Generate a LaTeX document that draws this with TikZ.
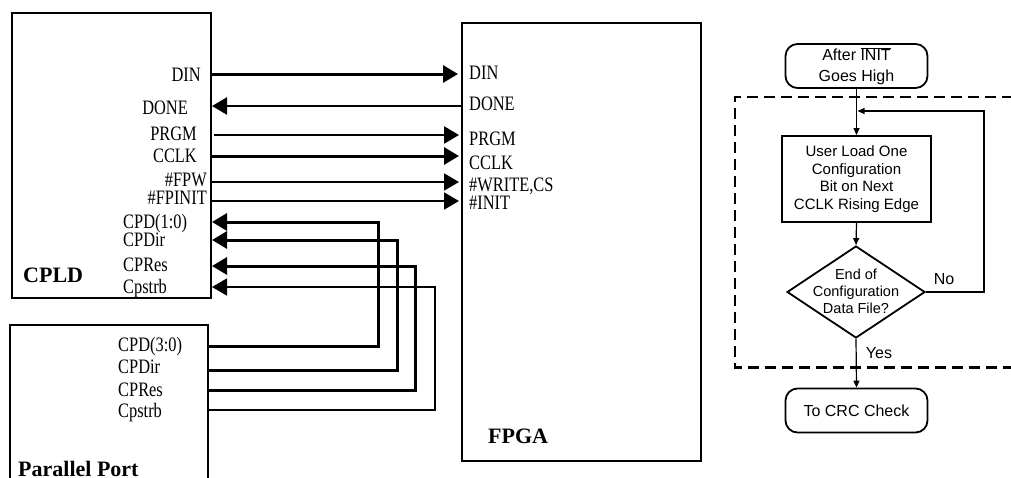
\documentclass[tikz,border=0pt]{standalone}
\usepackage{fontspec}
\setmainfont{Liberation Serif}
\newfontfamily\pinfont[FakeStretch=0.8]{Liberation Serif}
\newfontfamily\flowfont{Liberation Sans}
\usetikzlibrary{arrows.meta,shapes.geometric}
\newcommand\ovl[1]{$\overline{\mbox{#1}}$}
\begin{document}
\begin{tikzpicture}[x=1pt,y=-1pt,
  chip/.style={draw,line width=2.5pt,inner sep=0pt},
  pinL/.style={font=\pinfont\fontsize{20.5}{20.5}\selectfont,inner sep=0pt,anchor=base east},
  pinR/.style={font=\pinfont\fontsize{20.5}{20.5}\selectfont,inner sep=0pt,anchor=base west},
  chiptitle/.style={font=\fontsize{22}{22}\selectfont\bfseries,inner sep=0pt,anchor=base west},
  sig/.style={line width=3pt,-{Triangle[length=15pt,width=17pt]}},
  sigm/.style={sig,line width=2.4pt},
  sigt/.style={sig,line width=2pt},
  sigs/.style={sig,line width=1.6pt},
  flow/.style={draw,line width=1.8pt,align=center,inner sep=0pt},
  term/.style={flow,rounded corners=12pt,minimum width=142pt,minimum height=44pt,
    font=\flowfont\fontsize{16}{21}\selectfont},
  flowline/.style={line width=1.2pt,-{Triangle[length=7pt,width=6pt]}},
  flowlabel/.style={font=\flowfont\fontsize{16}{16}\selectfont,inner sep=0pt},
  dashbox/.style={line width=2.4pt,dash pattern=on 11pt off 6pt}]
\useasboundingbox (0,0) rectangle (1011,477);
\begin{scope}
\clip (0,0) rectangle (1011,477);
% chips
\node[chip,minimum width=199pt,minimum height=285pt] (cpld) at (111.5,155.5) {};
\node[chip,minimum width=198pt,minimum height=200pt] (pp) at (109,425) {};
\node[chip,minimum width=239pt,minimum height=438pt] (fpga) at (581.5,242) {};
% CPLD labels
\node[pinL] (lDIN) at (201,81.5) {DIN};
\node[pinL] (lDONE) at (188,114) {DONE};
\node[pinL] (lPRGM) at (197,140) {PRGM};
\node[pinL] (lCCLK) at (197,162.5) {CCLK};
\node[pinL] (lFPW) at (207,186.5) {\#FPW};
\node[pinL] (lFPINIT) at (207,204) {\#FPINIT};
\node[pinR] (lCPD) at (123,228.5) {CPD(1:0)};
\node[pinR] (lCPDir) at (123,246.5) {CPDir};
\node[pinR] (lCPRes) at (123,271.5) {CPRes};
\node[pinR] (lCpstrb) at (123,293) {Cpstrb};
\node[chiptitle] (tCPLD) at (23,282) {CPLD};
% Parallel port labels
\node[pinR] (pCPD) at (118,351) {CPD(3:0)};
\node[pinR] (pCPDir) at (118,373) {CPDir};
\node[pinR] (pCPRes) at (118,396) {CPRes};
\node[pinR] (pCpstrb) at (118,417) {Cpstrb};
\node[chiptitle] (tPP) at (18,476.5) {Parallel Port};
% FPGA labels
\node[pinR] (fDIN) at (469,79) {DIN};
\node[pinR] (fDONE) at (469,110) {DONE};
\node[pinR] (fPRGM) at (469,145) {PRGM};
\node[pinR] (fCCLK) at (469,169) {CCLK};
\node[pinR] (fWR) at (469,191) {\#WRITE,CS};
\node[pinR] (fINIT) at (469,209) {\#INIT};
\node[chiptitle] (tFPGA) at (488,443) {FPGA};
% pin coordinates
\coordinate (cpldDIN) at (211,74);
\coordinate (fpgaDIN) at (458,74);
\coordinate (fpgaDONE) at (462,106);
\coordinate (cpldDONE) at (212,106);
\coordinate (cpldPRGM) at (214,135);
\coordinate (fpgaPRGM) at (459,135);
\coordinate (cpldCCLK) at (211,156);
\coordinate (fpgaCCLK) at (459,156);
\coordinate (cpldFPW) at (211,182);
\coordinate (fpgaWR) at (459,182);
\coordinate (cpldFPINIT) at (211,201);
\coordinate (fpgaINIT) at (459,201);
\coordinate (cpldCPD) at (212,222);
\coordinate (cpldDir) at (212,240);
\coordinate (cpldRes) at (212,266);
\coordinate (cpldStrb) at (212,287);
\coordinate (ppCPD) at (208,346);
\coordinate (ppDir) at (208,370);
\coordinate (ppRes) at (208,390);
\coordinate (ppStrb) at (208,410);
\coordinate (bCPD) at (378,222);
\coordinate (bDir) at (397,240);
\coordinate (bRes) at (415,266);
\coordinate (bStrb) at (435,287);
% connectors
\draw[sig] (cpldDIN) -- (fpgaDIN);
\draw[sigm] (fpgaDONE) -- (cpldDONE);
\draw[sigm] (cpldPRGM) -- (fpgaPRGM);
\draw[sig] (cpldCCLK) -- (fpgaCCLK);
\draw[sigt] (cpldFPW) -- (fpgaWR);
\draw[sigt] (cpldFPINIT) -- (fpgaINIT);
\draw[sig] (ppCPD) -| (bCPD) -- (cpldCPD);
\draw[sig] (ppDir) -| (bDir) -- (cpldDir);
\draw[sig] (ppRes) -| (bRes) -- (cpldRes);
\draw[sigs] (ppStrb) -| (bStrb) -- (cpldStrb);
% flowchart
\draw[dashbox] (1030,97) -- (735,97) -- (735,367.5) -- (1030,367.5);
\node[term] (init) at (856.5,66) {After \ovl{INIT}\\Goes High};
\node[flow,minimum width=149pt,minimum height=86pt,font=\flowfont\fontsize{15}{17.7}\selectfont] (load) at (856.5,179) {User Load One\\Configuration\\Bit on Next\\CCLK Rising Edge};
\node[draw,diamond,line width=1.8pt,minimum width=138pt,minimum height=92pt,inner sep=0pt] (dec) at (856,292) {};
\node[align=center,inner sep=0pt,font=\flowfont\fontsize{14.5}{17}\selectfont] (dectext) at (856,291) {End of\\Configuration\\Data File?};
\node[term] (crc) at (856.5,410.5) {To CRC Check};
\coordinate (loopR) at (984,292);
\coordinate (loopT) at (984,111);
\coordinate (loopIn) at (857.5,111);
\draw[flowline] (init.south) -- (load.north);
\draw[flowline] (load.south) -- (dec.north);
\draw[flowline] (dec.south) -- (crc.north);
\draw[flowline] (dec.east) -- (loopR) -- (loopT) -- (loopIn);
\node[flowlabel] (no) at (944,279) {No};
\node[flowlabel] (yes) at (879,353.5) {Yes};
\end{scope}
\end{tikzpicture}
\end{document}
